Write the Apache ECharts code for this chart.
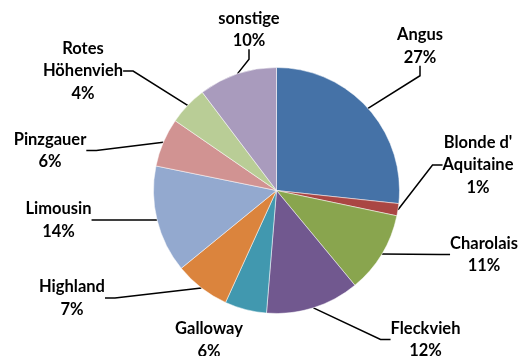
<!DOCTYPE html>
<html>
<head>
<meta charset="utf-8">
<script src="https://cdn.jsdelivr.net/npm/echarts@6/dist/echarts.min.js"></script>
<style>html,body{margin:0;padding:0;background:#fff;}#c{width:521px;height:356px;}</style>
</head>
<body>
<div id="c"></div>
<script>
const categories = ["Angus", "Blonde d'\nAquitaine", "Charolais", "Fleckvieh", "Galloway", "Highland", "Limousin", "Pinzgauer", "Rotes\nHöhenvieh", "sonstige"];
const values = [26.7, 1.6, 10.7, 12.3, 5.5, 7.3, 14.1, 6.4, 5.1, 10.3];
const percentLabels = ["27%", "1%", "11%", "12%", "6%", "7%", "14%", "6%", "4%", "10%"];

// styling / layout (not data)
const colors = ["#4572A7", "#AA4643", "#89A54E", "#71588F", "#4198AF", "#DB843D", "#93A9CF", "#D19392", "#B9CD96", "#A99BBD"];
const PIE_CX = 276.5, PIE_CY = 190.5, PIE_R = 123;
// label block centre offsets from the pie centre (Excel best-fit placement)
const labelOffsets = [[143.5, -144.5], [201.5, -25.5], [207.5, 64], [149, 149], [-67.5, 149.5], [-204.5, 107.5], [-218, 29.5], [-226.5, -40], [-193.5, -119.5], [-27.5, -161]];
const noLeader = [false, false, false, false, true, false, false, false, false, false];

const chart = echarts.init(document.getElementById('c'), null, {renderer: 'canvas'});
const data = categories.map((c, i) => ({
  name: c, value: values[i], itemStyle: {color: colors[i]},
  labelLine: {show: !noLeader[i]}
}));
chart.setOption({
  animation: false,
  backgroundColor: '#fff',
  series: [{
    type: 'pie',
    center: [PIE_CX, PIE_CY],
    radius: PIE_R,
    startAngle: 90,
    clockwise: true,
    avoidLabelOverlap: false,
    data: data,
    itemStyle: {borderColor: '#fff', borderWidth: 0.5},
    label: {
      show: true,
      position: 'outside',
      formatter: p => {
        const lines = p.name.split('\n').concat([percentLabels[p.dataIndex]]);
        return lines.map(l => '{t|' + l + '}').join('\n');
      },
      rich: {
        t: {fontFamily: 'Lato', fontWeight: 'bold', fontSize: 16.5, lineHeight: 22.5, color: '#000', align: 'center'}
      }
    },
    labelLine: {
      show: true,
      length: 20,
      length2: 10,
      lineStyle: {color: '#000', width: 1.5}
    },
    labelLayout: function (p) {
      const o = labelOffsets[p.dataIndex];
      return {x: PIE_CX + o[0], y: PIE_CY + o[1], align: 'center', verticalAlign: 'middle'};
    }
  }]
});
</script>
</body>
</html>
